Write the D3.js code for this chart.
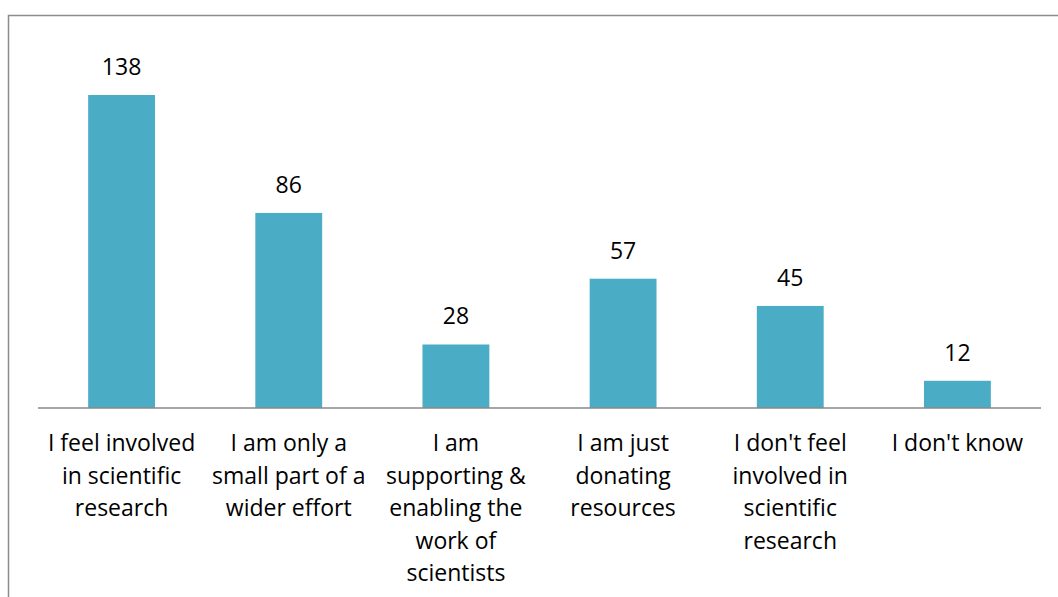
<!DOCTYPE html>
<html><head><meta charset="utf-8">
<script src="https://cdn.jsdelivr.net/npm/d3@7"></script>
<style>body{margin:0;background:#fff}svg{display:block}</style>
</head><body>
<svg id="c" width="1058" height="597"></svg>
<script>
const categories = ["I feel involved in scientific research","I am only a small part of a wider effort","I am supporting & enabling the work of scientists","I am just donating resources","I don't feel involved in scientific research","I don't know"];
const categoryLines = [
  ["I feel involved","in scientific","research"],
  ["I am only a","small part of a","wider effort"],
  ["I am","supporting &","enabling the","work of","scientists"],
  ["I am just","donating","resources"],
  ["I don't feel","involved in","scientific","research"],
  ["I don't know"]
];
const values = [138, 86, 28, 57, 45, 12];

const svg = d3.select("#c");
const font = "'Open Sans', sans-serif";
const x0 = 38, x1 = 1041, baseY = 408;

svg.append("rect").attr("x", 8.5).attr("y", 15.5).attr("width", 1200).attr("height", 800)
  .attr("fill", "none").attr("stroke", "#8c8c8c").attr("stroke-width", 1.5);

const x = d3.scaleBand().domain(categories).range([x0, x1]).paddingInner(0.6).paddingOuter(0.3);
const y = d3.scaleLinear().domain([0, 138]).range([baseY, 95]);

svg.selectAll("rect.bar").data(values).enter().append("rect")
  .attr("class", "bar")
  .attr("x", (d, i) => x(categories[i]))
  .attr("width", x.bandwidth())
  .attr("y", d => y(d))
  .attr("height", d => baseY - y(d))
  .attr("fill", "#4BACC6");

svg.append("line").attr("x1", x0).attr("x2", x1).attr("y1", baseY).attr("y2", baseY)
  .attr("stroke", "#888888").attr("stroke-width", 1.5);

svg.selectAll("text.val").data(values).enter().append("text")
  .attr("class", "val")
  .attr("x", (d, i) => x(categories[i]) + x.bandwidth() / 2)
  .attr("y", d => y(d) - 20)
  .attr("text-anchor", "middle")
  .attr("font-family", font).attr("font-size", "23px").attr("fill", "#000")
  .text(d => d);

const lab = svg.selectAll("text.cat").data(categories).enter().append("text")
  .attr("class", "cat")
  .attr("text-anchor", "middle")
  .attr("font-family", font).attr("font-size", "23px").attr("fill", "#000");
lab.each(function(d, i) {
  const cx = x(d) + x.bandwidth() / 2;
  d3.select(this).selectAll("tspan").data(categoryLines[i]).enter().append("tspan")
    .attr("x", cx).attr("y", (l, j) => 451 + j * 32.5).text(l => l);
});
</script>
</body></html>
